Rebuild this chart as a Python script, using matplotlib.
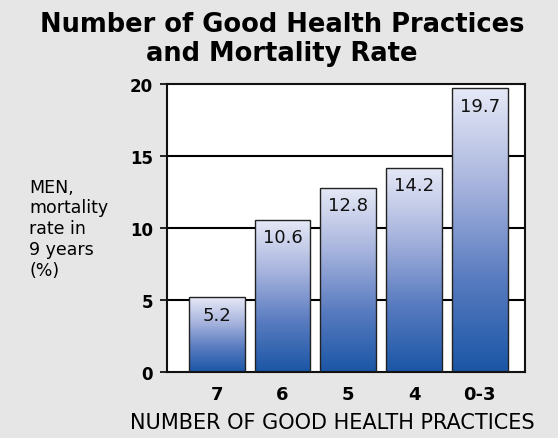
import numpy as np
import matplotlib

matplotlib.use("Agg")
import matplotlib.pyplot as plt
from matplotlib.colors import LinearSegmentedColormap

plt.rcParams["font.family"] = ["DejaVu Sans"]

categories = ["7", "6", "5", "4", "0-3"]
mortality = [5.2, 10.6, 12.8, 14.2, 19.7]
yticks = [0, 5, 10, 15, 20]

BG = "#e6e6e6"
cmap = LinearSegmentedColormap.from_list("bar", ["#e6e9f6", "#a9b5de", "#5a7cc0", "#1a56a6"])

fig = plt.figure(figsize=(5.58, 4.39), dpi=100, facecolor=BG)
ax = fig.add_axes([0.299, 0.150, 0.642, 0.656])
ax.set_facecolor("white")

x = np.arange(len(categories))
bars = ax.bar(x, mortality, width=0.85, facecolor="none", edgecolor="#222222",
              linewidth=1.0, zorder=3)
grad = np.linspace(0, 1, 256).reshape(-1, 1)
for b, v in zip(bars, mortality):
    x0, w, h = b.get_x(), b.get_width(), b.get_height()
    im = ax.imshow(grad, cmap=cmap, aspect="auto", extent=(x0, x0 + w, 0, h),
                   zorder=2, origin="upper")
    im.set_clip_path(b)
    ax.text(b.get_x() + w / 2, h - 0.6, f"{v}", ha="center", va="top",
            fontsize=13, color="#111111", zorder=4)

ax.set_xlim(-0.76, 4.69)
ax.set_ylim(0, 20)
ax.set_yticks(yticks)
ax.set_yticklabels([str(t) for t in yticks], fontsize=12, fontweight="bold")
ax.set_xticks(x)
ax.set_xticklabels(categories, fontsize=13, fontweight="bold")
ax.tick_params(axis="x", length=0, pad=9)
ax.tick_params(axis="y", length=5, width=1.2, pad=5)
for t in [5, 10, 15]:
    ax.axhline(t, color="black", linewidth=1.5, zorder=1)
for s in ax.spines.values():
    s.set_color("#111111")
    s.set_linewidth(1.5)

fig.text(0.505, 0.911, "Number of Good Health Practices\nand Mortality Rate",
         ha="center", va="center", fontsize=18.5, fontweight="heavy", linespacing=1.15)
fig.text(0.595, 0.037, "NUMBER OF GOOD HEALTH PRACTICES", ha="center", va="center",
         fontsize=15)
fig.text(0.052, 0.478, "MEN,\nmortality\nrate in\n9 years\n(%)", ha="left", va="center",
         fontsize=12.5, linespacing=1.2)

fig.savefig("out.png", dpi=100, facecolor=BG)
